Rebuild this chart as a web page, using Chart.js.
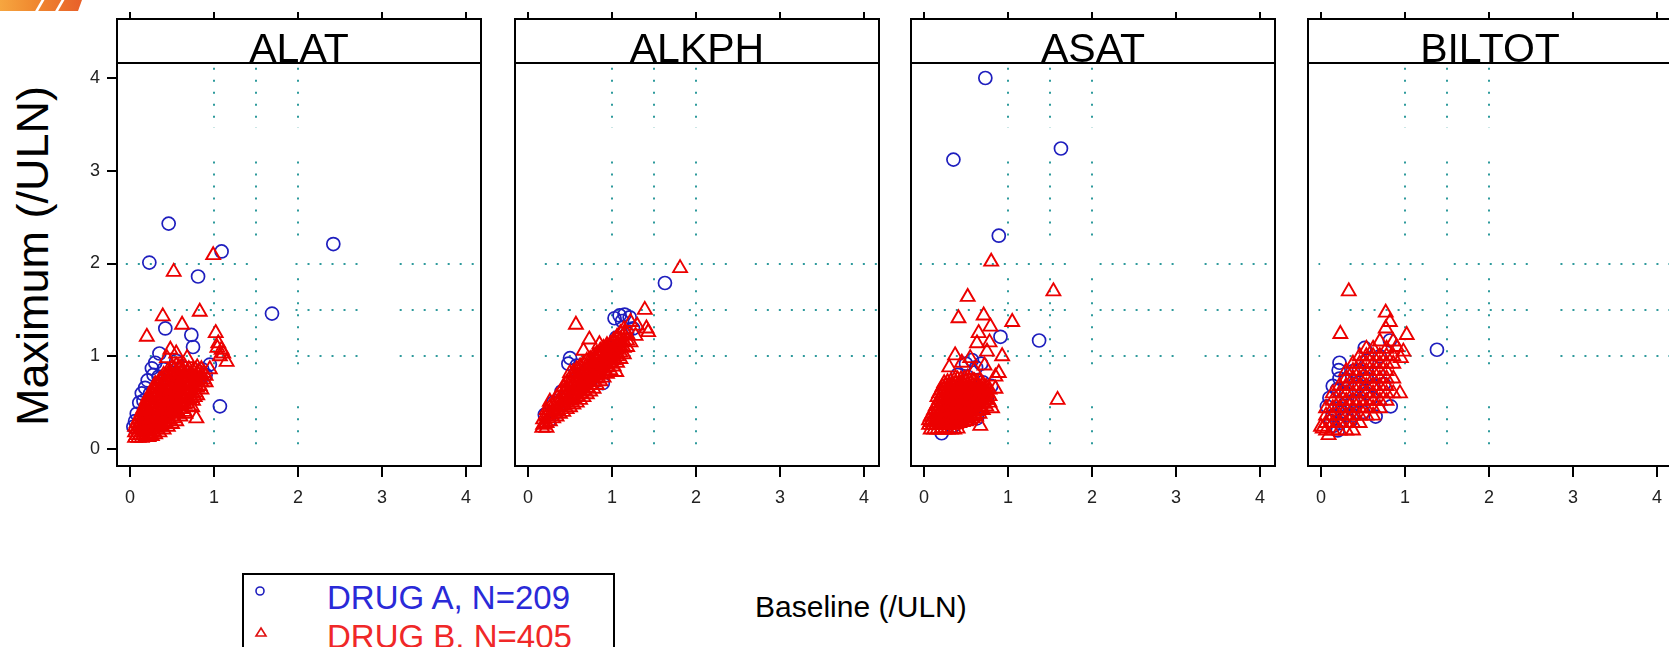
<!DOCTYPE html>
<html>
<head>
<meta charset="utf-8">
<script src="https://cdn.jsdelivr.net/npm/chart.js@4.4.1/dist/chart.umd.min.js"></script>
<style>
html, body { margin: 0; padding: 0; background: #fff; overflow: hidden; }
body { width: 1669px; height: 647px; position: relative; font-family: "Liberation Sans", Arial, sans-serif; }
canvas.panel { position: absolute; top: 0; }
#deco { position: absolute; left: 0; top: 0; width: 82px; height: 11px;
  background: linear-gradient(90deg, #f6a640 0%, #f08a30 40%, #e8602a 100%);
  clip-path: polygon(0 0, 82px 0, 78px 11px, 0 11px); }
#deco i { position: absolute; top: -2px; width: 3px; height: 16px; background: #fff; transform: skewX(-30deg); }
#ylab { position: absolute; left: 32px; top: 256px; font-size: 45px; line-height: 1; white-space: nowrap;
  transform: translate(-50%, -50%) rotate(-90deg); color: #000; }
#xlab { position: absolute; left: 755px; top: 592px; font-size: 30px; line-height: 1; white-space: nowrap; color: #000; }
#legend { position: absolute; left: 242px; top: 573px; width: 369px; height: 110px; border: 2px solid #000; }
#legend .txt { position: absolute; left: 83px; font-size: 33px; line-height: 1; white-space: nowrap; }
#legend svg { position: absolute; left: 10px; }
</style>
</head>
<body>
<div id="deco"><i style="left:38px"></i><i style="left:58px"></i></div>
<div id="ylab">Maximum (/ULN)</div>
<div id="xlab">Baseline (/ULN)</div>
<div id="legend">
  <svg style="top:10px" width="12" height="12"><circle cx="6" cy="6" r="4" fill="none" stroke="#1e1ebe" stroke-width="1.6"/></svg>
  <span class="txt" style="top:6px;color:#2a2ad8">DRUG A, N=209</span>
  <svg style="top:51px" width="14" height="12"><polygon points="7,2 12,10 2,10" fill="none" stroke="#e01010" stroke-width="1.6"/></svg>
  <span class="txt" style="top:45px;color:#f02828">DRUG B, N=405</span>
</div>
<canvas class="panel" id="p0" width="414" height="530"></canvas>
<canvas class="panel" id="p1" width="414" height="530"></canvas>
<canvas class="panel" id="p2" width="414" height="530"></canvas>
<canvas class="panel" id="p3" width="414" height="530"></canvas>
<script>
const panels = ['ALAT', 'ALKPH', 'ASAT', 'BILTOT'];
const seriesNames = ['DRUG A, N=209', 'DRUG B, N=405'];
const xTicks = [0, 1, 2, 3, 4];
const yTicks = [0, 1, 2, 3, 4];
const refX = [1, 1.5, 2];
const refY = [1, 1.5, 2];
// visible pieces of the dotted reference lines
const vSegs = [[-0.05, 0.46], [0.82, 1.84], [2.21, 3.10], [3.46, 4.11]];
const hSegs = [
  [[-0.05, 1.51], [1.97, 2.76], [3.21, 4.17]],
  [[0.2, 2.37], [2.7, 4.17]],
  [[-0.05, 1.75], [2.09, 2.98], [3.34, 4.17]],
  [[-0.03, -0.01], [0.34, 1.24], [1.58, 2.49], [2.85, 4.17]]
];

// ---- ALAT ----
const alatA = [[0.46,2.43],[0.23,2.01],[1.09,2.13],[0.81,1.86],[2.42,2.21],[1.69,1.46],[0.42,1.30],[0.73,1.23],
  [0.75,1.10],[0.35,1.03],[0.26,0.87],[0.95,0.91],[0.14,0.60],[0.04,0.24],[1.07,0.46],[0.30,0.93],[0.21,0.74],
  [0.18,0.66],[0.11,0.50],[0.08,0.38],[0.06,0.30],[0.28,0.80],[0.33,0.70],[0.40,0.86],[0.55,0.95],[0.62,0.88],
  [0.86,0.86],[0.90,0.80],[0.12,0.22],[0.20,0.40],[0.38,0.55],[0.50,0.62],[0.65,0.70],[0.25,0.30],[0.45,0.40],
  [0.72,0.62],[0.16,0.52],[0.24,0.60],[0.34,0.78],[0.52,0.82]];
const alatB = [[0.99,2.09],[0.52,1.91],[0.83,1.48],[0.39,1.43],[0.62,1.34],[0.20,1.21],[1.02,1.25],[1.05,1.14],
  [1.09,1.07],[1.11,1.03],[1.15,0.94],[1.07,1.00],[1.04,1.09],[0.48,1.07],[0.79,0.33],[0.77,0.56],[0.55,1.03],
  [0.44,0.98],[0.68,0.98],[0.95,0.86],[0.74,0.45],[0.66,0.38],
  [0.06,0.12],[0.06,0.18],[0.06,0.24],
  [0.08,0.15],[0.08,0.21],[0.08,0.28],
  [0.10,0.12],[0.10,0.18],[0.10,0.25],[0.10,0.32],
  [0.12,0.15],[0.12,0.22],[0.12,0.29],[0.12,0.36],
  [0.14,0.12],[0.14,0.18],[0.14,0.25],[0.14,0.32],[0.14,0.40],
  [0.16,0.15],[0.16,0.22],[0.16,0.29],[0.16,0.37],[0.16,0.44],
  [0.18,0.13],[0.18,0.19],[0.18,0.26],[0.18,0.33],[0.18,0.41],[0.18,0.48],
  [0.20,0.16],[0.20,0.23],[0.20,0.30],[0.20,0.38],[0.20,0.46],[0.20,0.53],
  [0.22,0.13],[0.22,0.20],[0.22,0.27],[0.22,0.34],[0.22,0.42],[0.22,0.50],[0.22,0.57],
  [0.24,0.17],[0.24,0.24],[0.24,0.32],[0.24,0.40],[0.24,0.48],[0.24,0.56],
  [0.26,0.14],[0.26,0.21],[0.26,0.28],[0.26,0.36],[0.26,0.44],[0.26,0.52],[0.26,0.60],
  [0.28,0.19],[0.28,0.26],[0.28,0.34],[0.28,0.42],[0.28,0.50],[0.28,0.58],[0.28,0.65],
  [0.30,0.16],[0.30,0.23],[0.30,0.30],[0.30,0.38],[0.30,0.46],[0.30,0.54],[0.30,0.62],[0.30,0.70],
  [0.33,0.21],[0.33,0.29],[0.33,0.37],[0.33,0.45],[0.33,0.53],[0.33,0.61],[0.33,0.70],
  [0.35,0.18],[0.35,0.25],[0.35,0.33],[0.35,0.41],[0.35,0.49],[0.35,0.57],[0.35,0.66],[0.35,0.74],
  [0.38,0.24],[0.38,0.33],[0.38,0.41],[0.38,0.49],[0.38,0.57],[0.38,0.65],[0.38,0.75],
  [0.40,0.21],[0.40,0.29],[0.40,0.37],[0.40,0.45],[0.40,0.53],[0.40,0.61],[0.40,0.70],[0.40,0.80],
  [0.43,0.27],[0.43,0.36],[0.43,0.44],[0.43,0.52],[0.43,0.60],[0.43,0.69],[0.43,0.78],
  [0.45,0.24],[0.45,0.32],[0.45,0.40],[0.45,0.48],[0.45,0.56],[0.45,0.64],[0.45,0.73],[0.45,0.84],
  [0.48,0.30],[0.48,0.39],[0.48,0.47],[0.48,0.55],[0.48,0.63],[0.48,0.72],[0.48,0.82],
  [0.50,0.27],[0.50,0.35],[0.50,0.43],[0.50,0.51],[0.50,0.59],[0.50,0.68],[0.50,0.78],[0.50,0.88],
  [0.53,0.33],[0.53,0.42],[0.53,0.50],[0.53,0.58],[0.53,0.66],[0.53,0.76],[0.53,0.86],
  [0.55,0.30],[0.55,0.39],[0.55,0.47],[0.55,0.55],[0.55,0.63],[0.55,0.72],[0.55,0.82],[0.55,0.90],
  [0.58,0.38],[0.58,0.46],[0.58,0.54],[0.58,0.62],[0.58,0.70],[0.58,0.80],[0.58,0.88],
  [0.60,0.35],[0.60,0.43],[0.60,0.51],[0.60,0.59],[0.60,0.68],[0.60,0.77],[0.60,0.87],
  [0.63,0.43],[0.63,0.51],[0.63,0.59],[0.63,0.67],[0.63,0.76],[0.63,0.85],
  [0.65,0.40],[0.65,0.48],[0.65,0.56],[0.65,0.64],[0.65,0.72],[0.65,0.81],[0.65,0.89],
  [0.68,0.49],[0.68,0.57],[0.68,0.65],[0.68,0.73],[0.68,0.82],
  [0.70,0.46],[0.70,0.54],[0.70,0.62],[0.70,0.70],[0.70,0.78],[0.70,0.86],
  [0.73,0.55],[0.73,0.63],[0.73,0.71],[0.73,0.80],
  [0.75,0.52],[0.75,0.60],[0.75,0.68],[0.75,0.76],[0.75,0.84],
  [0.78,0.61],[0.78,0.69],[0.78,0.77],[0.78,0.85],
  [0.80,0.58],[0.80,0.66],[0.80,0.74],[0.80,0.82],[0.80,0.88],
  [0.83,0.68],[0.83,0.76],[0.83,0.83],
  [0.85,0.64],[0.85,0.72],[0.85,0.80],[0.85,0.86],
  [0.88,0.75],[0.88,0.82],
  [0.90,0.72],[0.90,0.79]];

// ---- ALKPH ----
const alkphA = [[1.63,1.79],[1.09,1.44],[1.21,1.42],[1.03,1.41],[1.15,1.45],[1.12,1.38],[0.50,0.98],[0.48,0.92],
  [0.20,0.37],[0.89,0.71],[1.25,1.30],[1.18,1.25],[0.30,0.50],[0.40,0.62],[0.60,0.80],[0.70,0.85],[0.80,0.95],
  [0.95,1.05],[1.05,1.20],[0.55,0.60],[0.35,0.40],[0.25,0.30],[0.65,0.70],[0.75,0.75],[0.85,1.00],[0.45,0.55],
  [1.00,1.10],[0.58,0.90]];
const alkphB = [[1.81,1.95],[1.39,1.50],[0.57,1.34],[1.41,1.30],[1.43,1.26],[0.73,1.18],[1.05,0.83],[0.26,0.51],
  [1.22,1.37],[1.30,1.33],[0.85,1.13],[0.66,1.06],[0.50,0.82],[1.22,1.15],[1.28,1.22],[0.17,0.23],[0.22,0.23],
  [0.18,0.26],[0.18,0.32],
  [0.22,0.28],[0.22,0.35],[0.22,0.42],
  [0.26,0.30],[0.26,0.37],[0.26,0.45],
  [0.30,0.33],[0.30,0.40],[0.30,0.47],
  [0.34,0.35],[0.34,0.42],[0.34,0.49],[0.34,0.56],
  [0.38,0.38],[0.38,0.45],[0.38,0.52],[0.38,0.60],
  [0.42,0.40],[0.42,0.47],[0.42,0.54],[0.42,0.61],[0.42,0.67],
  [0.46,0.43],[0.46,0.50],[0.46,0.57],[0.46,0.64],[0.46,0.71],
  [0.50,0.45],[0.50,0.52],[0.50,0.59],[0.50,0.66],[0.50,0.73],
  [0.54,0.48],[0.54,0.55],[0.54,0.62],[0.54,0.69],[0.54,0.76],[0.54,0.83],
  [0.58,0.50],[0.58,0.57],[0.58,0.64],[0.58,0.71],[0.58,0.78],[0.58,0.86],
  [0.62,0.53],[0.62,0.60],[0.62,0.67],[0.62,0.74],[0.62,0.81],[0.62,0.89],
  [0.66,0.56],[0.66,0.63],[0.66,0.70],[0.66,0.77],[0.66,0.84],[0.66,0.92],
  [0.70,0.59],[0.70,0.66],[0.70,0.73],[0.70,0.80],[0.70,0.87],[0.70,0.95],
  [0.74,0.62],[0.74,0.69],[0.74,0.76],[0.74,0.83],[0.74,0.90],[0.74,0.97],
  [0.78,0.65],[0.78,0.72],[0.78,0.79],[0.78,0.86],[0.78,0.93],[0.78,1.00],
  [0.82,0.69],[0.82,0.76],[0.82,0.83],[0.82,0.90],[0.82,0.97],[0.82,1.03],
  [0.86,0.73],[0.86,0.80],[0.86,0.87],[0.86,0.94],[0.86,1.01],[0.86,1.06],
  [0.90,0.77],[0.90,0.84],[0.90,0.91],[0.90,0.98],[0.90,1.05],[0.90,1.09],
  [0.94,0.81],[0.94,0.88],[0.94,0.95],[0.94,1.02],[0.94,1.09],[0.94,1.12],
  [0.98,0.85],[0.98,0.92],[0.98,0.99],[0.98,1.06],[0.98,1.13],
  [1.02,0.89],[1.02,0.96],[1.02,1.03],[1.02,1.10],[1.02,1.17],
  [1.06,0.93],[1.06,1.00],[1.06,1.07],[1.06,1.14],[1.06,1.21],
  [1.10,0.97],[1.10,1.04],[1.10,1.11],[1.10,1.18],[1.10,1.25],
  [1.14,1.02],[1.14,1.09],[1.14,1.16],[1.14,1.23],[1.14,1.29],
  [1.18,1.10],[1.18,1.17],[1.18,1.24]];

// ---- ASAT ----
const asatA = [[0.73,4.00],[0.35,3.12],[1.63,3.24],[0.89,2.30],[0.91,1.21],[1.37,1.17],[0.57,0.96],[0.50,0.92],
  [0.62,0.88],[0.40,0.80],[0.70,0.72],[0.80,0.68],[0.63,0.33],[0.21,0.17],[0.30,0.50],[0.60,0.60],[0.45,0.70],
  [0.15,0.30],[0.55,0.45],[0.35,0.25],[0.75,0.55],[0.25,0.65],[0.68,0.92],[0.48,0.38]];
const asatB = [[0.80,2.02],[0.52,1.64],[1.54,1.70],[0.41,1.41],[0.71,1.44],[1.05,1.37],[0.79,1.32],[0.65,1.25],
  [0.63,1.14],[0.93,1.00],[1.59,0.53],[0.37,1.01],[0.75,1.05],[0.55,0.98],[0.45,0.93],[0.85,0.78],[0.81,0.44],
  [0.89,0.82],[0.30,0.88],[0.72,0.90],[0.60,0.85],[0.85,0.65],[0.78,1.15],[0.67,0.25],
  [0.08,0.21],[0.12,0.21],[0.16,0.21],[0.20,0.21],[0.24,0.21],[0.28,0.21],[0.32,0.21],[0.36,0.21],[0.40,0.22],
  [0.06,0.26],[0.06,0.31],
  [0.08,0.29],[0.08,0.35],
  [0.10,0.26],[0.10,0.32],[0.10,0.38],
  [0.12,0.29],[0.12,0.35],[0.12,0.42],
  [0.14,0.26],[0.14,0.32],[0.14,0.39],[0.14,0.46],
  [0.16,0.29],[0.16,0.35],[0.16,0.42],[0.16,0.49],[0.16,0.56],
  [0.18,0.26],[0.18,0.32],[0.18,0.39],[0.18,0.46],[0.18,0.53],[0.18,0.60],
  [0.20,0.29],[0.20,0.35],[0.20,0.42],[0.20,0.49],[0.20,0.56],[0.20,0.63],
  [0.22,0.26],[0.22,0.32],[0.22,0.39],[0.22,0.46],[0.22,0.53],[0.22,0.60],[0.22,0.67],
  [0.24,0.29],[0.24,0.36],[0.24,0.43],[0.24,0.50],[0.24,0.57],[0.24,0.64],[0.24,0.71],
  [0.26,0.26],[0.26,0.33],[0.26,0.40],[0.26,0.47],[0.26,0.54],[0.26,0.61],[0.26,0.68],
  [0.28,0.29],[0.28,0.36],[0.28,0.43],[0.28,0.50],[0.28,0.57],[0.28,0.64],[0.28,0.72],
  [0.30,0.26],[0.30,0.33],[0.30,0.40],[0.30,0.47],[0.30,0.54],[0.30,0.61],[0.30,0.68],
  [0.32,0.29],[0.32,0.36],[0.32,0.43],[0.32,0.50],[0.32,0.57],[0.32,0.65],[0.32,0.73],
  [0.34,0.26],[0.34,0.33],[0.34,0.40],[0.34,0.47],[0.34,0.54],[0.34,0.61],[0.34,0.69],
  [0.36,0.30],[0.36,0.37],[0.36,0.44],[0.36,0.51],[0.36,0.58],[0.36,0.66],[0.36,0.74],
  [0.38,0.27],[0.38,0.34],[0.38,0.41],[0.38,0.48],[0.38,0.55],[0.38,0.62],[0.38,0.70],
  [0.40,0.31],[0.40,0.38],[0.40,0.45],[0.40,0.52],[0.40,0.59],[0.40,0.67],[0.40,0.75],
  [0.42,0.28],[0.42,0.35],[0.42,0.42],[0.42,0.49],[0.42,0.56],[0.42,0.63],[0.42,0.71],
  [0.44,0.32],[0.44,0.39],[0.44,0.46],[0.44,0.53],[0.44,0.60],[0.44,0.67],[0.44,0.75],
  [0.46,0.29],[0.46,0.36],[0.46,0.43],[0.46,0.50],[0.46,0.57],[0.46,0.64],[0.46,0.71],
  [0.48,0.33],[0.48,0.40],[0.48,0.47],[0.48,0.54],[0.48,0.61],[0.48,0.68],[0.48,0.76],
  [0.50,0.30],[0.50,0.37],[0.50,0.44],[0.50,0.51],[0.50,0.58],[0.50,0.65],[0.50,0.72],
  [0.52,0.34],[0.52,0.41],[0.52,0.48],[0.52,0.55],[0.52,0.62],[0.52,0.69],[0.52,0.77],
  [0.54,0.31],[0.54,0.38],[0.54,0.45],[0.54,0.52],[0.54,0.59],[0.54,0.66],[0.54,0.73],
  [0.56,0.36],[0.56,0.43],[0.56,0.50],[0.56,0.57],[0.56,0.64],[0.56,0.71],
  [0.58,0.33],[0.58,0.40],[0.58,0.47],[0.58,0.54],[0.58,0.61],[0.58,0.68],[0.58,0.74],
  [0.60,0.38],[0.60,0.45],[0.60,0.52],[0.60,0.59],[0.60,0.66],[0.60,0.73],
  [0.62,0.35],[0.62,0.42],[0.62,0.49],[0.62,0.56],[0.62,0.63],[0.62,0.70],
  [0.64,0.41],[0.64,0.48],[0.64,0.55],[0.64,0.62],[0.64,0.69],
  [0.66,0.38],[0.66,0.45],[0.66,0.52],[0.66,0.59],[0.66,0.66],[0.66,0.73],
  [0.68,0.45],[0.68,0.52],[0.68,0.59],[0.68,0.66],
  [0.70,0.42],[0.70,0.49],[0.70,0.56],[0.70,0.63],[0.70,0.70],
  [0.72,0.49],[0.72,0.56],[0.72,0.63],
  [0.74,0.46],[0.74,0.53],[0.74,0.60],[0.74,0.67],
  [0.76,0.53],[0.76,0.60],
  [0.78,0.50],[0.78,0.57],[0.78,0.64]];

// ---- BILTOT ----
const biltotA = [[1.38,1.07],[0.82,1.17],[0.52,1.09],[0.22,0.93],[0.21,0.85],[0.07,0.46],[0.83,0.46],[0.19,0.64],
  [0.30,0.75],[0.15,0.25],[0.40,0.70],[0.60,0.55],[0.30,0.50],[0.50,0.40],[0.68,0.82],[0.12,0.30],[0.35,0.30],
  [0.45,0.85],[0.25,0.40],[0.55,0.95],[0.70,1.00],[0.75,0.70],[0.10,0.55],[0.65,0.35],[0.20,0.20],
  [0.14,0.36],[0.22,0.44],[0.30,0.60],[0.38,0.52],[0.46,0.68],[0.22,0.76],[0.14,0.68],[0.38,0.84],[0.30,0.36],
  [0.46,0.52],[0.54,0.76],[0.62,0.68],[0.38,0.36],[0.22,0.28],[0.54,0.60]];
const biltotB = [[0.33,1.70],[0.23,1.24],[0.77,1.47],[0.82,1.37],[0.77,1.30],[1.02,1.23],[0.94,0.60],[0.09,0.15],
  [0.00,0.24],[0.90,1.10],[0.95,0.98],[0.86,1.16],[0.98,1.05],[0.70,1.16],[0.54,1.08],
  [0.02,0.22],
  [0.06,0.20],[0.06,0.28],[0.06,0.36],[0.06,0.44],
  [0.14,0.20],[0.14,0.28],[0.14,0.36],[0.14,0.44],[0.14,0.52],[0.14,0.60],
  [0.22,0.20],[0.22,0.28],[0.22,0.36],[0.22,0.44],[0.22,0.52],[0.22,0.60],[0.22,0.68],
  [0.30,0.20],[0.30,0.28],[0.30,0.36],[0.30,0.44],[0.30,0.52],[0.30,0.60],[0.30,0.68],[0.30,0.76],[0.30,0.84],
  [0.38,0.20],[0.38,0.28],[0.38,0.36],[0.38,0.44],[0.38,0.52],[0.38,0.60],[0.38,0.68],[0.38,0.76],[0.38,0.84],[0.38,0.92],
  [0.46,0.28],[0.46,0.36],[0.46,0.44],[0.46,0.52],[0.46,0.60],[0.46,0.68],[0.46,0.76],[0.46,0.84],[0.46,0.92],[0.46,1.00],
  [0.54,0.36],[0.54,0.44],[0.54,0.52],[0.54,0.60],[0.54,0.68],[0.54,0.76],[0.54,0.84],[0.54,0.92],[0.54,1.00],
  [0.62,0.36],[0.62,0.44],[0.62,0.52],[0.62,0.60],[0.62,0.68],[0.62,0.76],[0.62,0.84],[0.62,0.92],[0.62,1.00],[0.62,1.08],
  [0.70,0.44],[0.70,0.52],[0.70,0.60],[0.70,0.68],[0.70,0.76],[0.70,0.84],[0.70,0.92],[0.70,1.00],
  [0.78,0.52],[0.78,0.60],[0.78,0.68],[0.78,0.76],[0.78,0.84],[0.78,0.92],[0.78,1.00],[0.78,1.08],
  [0.86,0.60],[0.86,0.76],[0.86,0.92],[0.86,1.00]];

const drugA = [alatA, alkphA, asatA, biltotA];
const drugB = [alatB, alkphB, asatB, biltotB];

// layout
const panelLeft = [117, 515, 911, 1308];
const X_MIN = -0.155, X_MAX = 4.178;
const Y_MIN = -0.183, Y_MAX = 4.636;
const STRIP_H = 44;
const blue = 'rgb(30,30,190)';
const red = 'rgb(236,0,0)';
const refColor = '#2e9a9c';
const tickFont = { family: '"Liberation Sans", Arial, sans-serif', size: 18 };

const panelPlugin = {
  id: 'panelDeco',
  beforeDatasetsDraw(chart) {
    const ctx = chart.ctx, xs = chart.scales.x, ys = chart.scales.y;
    const idx = chart.options.panelIndex;
    ctx.save();
    ctx.strokeStyle = refColor;
    ctx.lineWidth = 2;
    ctx.setLineDash([2, 10]);
    refX.forEach(v => {
      const px = Math.round(xs.getPixelForValue(v));
      vSegs.forEach(([a, b]) => {
        ctx.beginPath();
        ctx.moveTo(px, ys.getPixelForValue(b));
        ctx.lineTo(px, ys.getPixelForValue(a));
        ctx.stroke();
      });
    });
    refY.forEach(v => {
      const py = Math.round(ys.getPixelForValue(v));
      hSegs[idx].forEach(([a, b]) => {
        ctx.beginPath();
        ctx.moveTo(xs.getPixelForValue(a), py);
        ctx.lineTo(xs.getPixelForValue(b), py);
        ctx.stroke();
      });
    });
    ctx.restore();
  },
  afterDatasetsDraw(chart) {
    const ctx = chart.ctx, a = chart.chartArea;
    const idx = chart.options.panelIndex;
    ctx.save();
    ctx.strokeStyle = '#000';
    ctx.lineWidth = 2;
    ctx.strokeRect(a.left, a.top, a.right - a.left, a.bottom - a.top);
    ctx.beginPath();
    ctx.moveTo(a.left, a.top + STRIP_H);
    ctx.lineTo(a.right, a.top + STRIP_H);
    ctx.stroke();
    ctx.fillStyle = '#000';
    ctx.font = '41px "Liberation Sans", Arial, sans-serif';
    ctx.textAlign = 'center';
    ctx.textBaseline = 'alphabetic';
    ctx.fillText(panels[idx], (a.left + a.right) / 2, a.top + STRIP_H - 1);
    ctx.restore();
  }
};

function toPts(arr) {
  return arr.map(p => ({ x: p[0], y: p[1] }));
}

panels.forEach((name, i) => {
  const cv = document.getElementById('p' + i);
  cv.style.left = (panelLeft[i] - 40) + 'px';
  new Chart(cv.getContext('2d'), {
    type: 'scatter',
    data: {
      datasets: [
        { label: seriesNames[0], data: toPts(drugA[i]), pointStyle: 'circle', pointRadius: 6.5,
          borderColor: blue, backgroundColor: 'rgba(0,0,0,0)', borderWidth: 1.7, order: 1 },
        { label: seriesNames[1], data: toPts(drugB[i]), pointStyle: 'triangle', pointRadius: 8,
          borderColor: red, backgroundColor: 'rgba(0,0,0,0)', borderWidth: 1.9, order: 0 }
      ]
    },
    options: {
      panelIndex: i,
      responsive: false,
      animation: false,
      devicePixelRatio: 1,
      layout: { padding: { left: 0, right: 10, top: 0, bottom: 0 } },
      plugins: { legend: { display: false }, tooltip: { enabled: false } },
      scales: {
        x: {
          type: 'linear', position: 'bottom', min: X_MIN, max: X_MAX,
          afterBuildTicks: s => { s.ticks = xTicks.map(v => ({ value: v })); },
          afterFit: s => { s.height = 64; },
          ticks: { font: tickFont, color: '#222', padding: 10, maxRotation: 0, autoSkip: false },
          grid: { drawOnChartArea: false, drawTicks: true, tickLength: 11, lineWidth: 2, color: '#000' },
          border: { display: false }
        },
        xTop: {
          type: 'linear', position: 'top', min: X_MIN, max: X_MAX,
          afterBuildTicks: s => { s.ticks = xTicks.map(v => ({ value: v })); },
          afterFit: s => { s.height = 19; },
          ticks: { display: false },
          grid: { drawOnChartArea: false, drawTicks: true, tickLength: 7, lineWidth: 2, color: '#000' },
          border: { display: false }
        },
        y: {
          type: 'linear', position: 'left', min: Y_MIN, max: Y_MAX,
          afterBuildTicks: s => { s.ticks = yTicks.map(v => ({ value: v })); },
          afterFit: s => { s.width = 40; },
          ticks: { display: i === 0, font: tickFont, color: '#222', padding: 7 },
          grid: { drawOnChartArea: false, drawTicks: i === 0, tickLength: 10, lineWidth: 2, color: '#000' },
          border: { display: false }
        }
      }
    },
    plugins: [panelPlugin]
  });
});
</script>
</body>
</html>
